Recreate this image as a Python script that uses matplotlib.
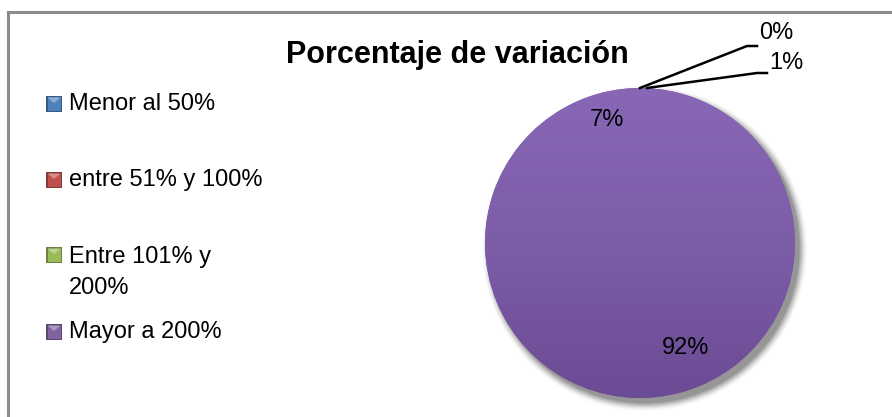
import numpy as np
import matplotlib
matplotlib.use("Agg")
import matplotlib.pyplot as plt
from matplotlib.patches import Rectangle, Circle, Polygon
from matplotlib.lines import Line2D
from matplotlib.colors import LinearSegmentedColormap, to_rgb

# ---- data ----
categories = ["Menor al 50%", "entre 51% y 100%", "Entre 101% y\n200%", "Mayor a 200%"]
values = [0.3, 0.9, 7.0, 91.8]
pct_labels = ["0%", "1%", "7%", "92%"]
legend_colors = ["#4F81BD", "#C0504D", "#9BBB59", "#8064A2"]
title = "Porcentaje de variación"

W, H = 892, 417
DPI = 100
fig = plt.figure(figsize=(W / DPI, H / DPI), dpi=DPI)
fig.patch.set_facecolor("white")

FONT = ["Liberation Sans Narrow", "Liberation Sans", "DejaVu Sans"]

def fx(px):
    return px / W

def fy(py):
    return 1 - py / H

# chart border (left and top visible)
fig.add_artist(Line2D([fx(8), fx(8)], [fy(12), fy(417)], color="#8C8C8C", lw=2.2, transform=fig.transFigure))
fig.add_artist(Line2D([fx(8), fx(892)], [fy(12), fy(12)], color="#8C8C8C", lw=2.2, transform=fig.transFigure))

# title
fig.text(fx(457), fy(55), title, ha="center", va="center", fontsize=22, fontweight="bold",
         family=FONT, color="black")

# ---- pie ----
cx, cy, r = 640, 243, 155
ax = fig.add_axes([fx(cx - r), fy(cy + r), 2 * r / W, 2 * r / H])
purple = "#7A5BA5"
wedges, _ = ax.pie(values, startangle=90, counterclock=True, radius=1,
                   colors=[purple] * len(values), wedgeprops=dict(linewidth=0, zorder=1))
ax.set_xlim(-1, 1)
ax.set_ylim(-1, 1)
ax.set_aspect("auto")
ax.axis("off")

# soft shadow (bottom-right)
for i, a in enumerate(np.linspace(0.12, 0.02, 7)):
    sh = Circle((0.03, -0.035), 1.0 + 0.008 * i, color="black", alpha=a, zorder=0, lw=0, clip_on=False)
    ax.add_patch(sh)

# vertical gradient over the pie
cmap = LinearSegmentedColormap.from_list("g", ["#8868B6", "#7C5DA8", "#6B4B93"])
grad = np.linspace(0, 1, 256).reshape(-1, 1)
im = ax.imshow(grad, extent=(-1, 1, -1, 1), cmap=cmap, aspect="auto", origin="upper", zorder=2)
clip = Circle((0, 0), 1.0, transform=ax.transData)
im.set_clip_path(clip)

# data labels
def to_data(px, py):
    return (px - cx) / r, (cy - py) / r

label_pos = {2: (607, 120), 3: (686, 348)}
for i, (px, py) in label_pos.items():
    x, y = to_data(px, py)
    ax.text(x, y, pct_labels[i], ha="center", va="center", fontsize=17, family=FONT, zorder=5)

# outside labels with leader lines
outside = {0: ((640, 88), (747, 46), (757, 46), (776, 33)),
           1: ((647, 88), (757, 73), (767, 73), (786, 63))}
for i, (p0, p1, p2, pt) in outside.items():
    xs = [fx(p0[0]), fx(p1[0]), fx(p2[0])]
    ys = [fy(p0[1]), fy(p1[1]), fy(p2[1])]
    fig.add_artist(Line2D(xs, ys, color="black", lw=1.8, transform=fig.transFigure, zorder=6))
    fig.text(fx(pt[0]), fy(pt[1]), pct_labels[i], ha="center", va="center", fontsize=17, family=FONT)

# ---- legend ----
leg_y = [104, 180, 255, 332]
for cat, col, y in zip(categories, legend_colors, leg_y):
    base = np.array(to_rgb(col))
    dark = base * 0.7
    light = np.clip(base + (1 - base) * 0.35, 0, 1)
    x0, x1 = 46, 62
    y0, y1 = y - 8, y + 8
    fig.add_artist(Rectangle((fx(x0), fy(y1)), (x1 - x0) / W, (y1 - y0) / H, transform=fig.transFigure,
                             facecolor=dark, edgecolor="none"))
    fig.add_artist(Rectangle((fx(x0 + 1.5), fy(y1 - 1.5)), (x1 - x0 - 3) / W, (y1 - y0 - 3) / H,
                             transform=fig.transFigure, facecolor=base, edgecolor="none"))
    fig.add_artist(Polygon([(fx(x0 + 1.5), fy(y0 + 1.5)), (fx(x1 - 1.5), fy(y0 + 1.5)),
                            (fx((x0 + x1) / 2), fy(y0 + 7))], closed=True, transform=fig.transFigure,
                           facecolor=light, edgecolor="none"))
    if "\n" in cat:
        fig.text(fx(69), fy(y - 9), cat, ha="left", va="top", fontsize=17, family=FONT, linespacing=1.55)
    else:
        fig.text(fx(69), fy(y), cat, ha="left", va="center", fontsize=17, family=FONT)

fig.savefig("out.png", dpi=DPI)
